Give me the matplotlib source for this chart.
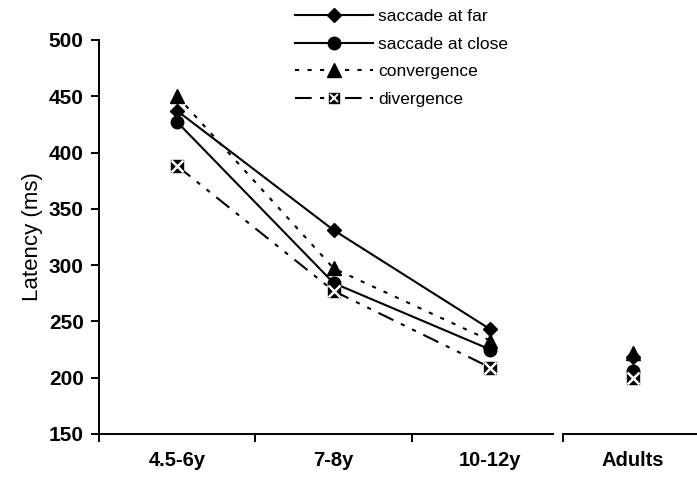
import matplotlib
matplotlib.use("Agg")
import matplotlib.pyplot as plt
from matplotlib.lines import Line2D
from matplotlib.legend_handler import HandlerTuple
from matplotlib.ticker import FixedLocator

plt.rcParams['font.family'] = ['Liberation Sans', 'DejaVu Sans']

# data
child_groups = ['4.5-6y', '7-8y', '10-12y']
adult_group = ['Adults']
saccade_far = [437, 331, 243]
saccade_close = [427, 284, 225]
convergence = [450, 297, 233]
divergence = [388, 277, 209]
adult_far = [218]
adult_close = [206]
adult_conv = [222]
adult_div = [200]
y_ticks = [150, 200, 250, 300, 350, 400, 450, 500]

fig = plt.figure(figsize=(6.97, 4.78), dpi=100)
ax1 = fig.add_axes([0.1420, 0.0921, 0.6514, 0.8243])
ax2 = fig.add_axes([0.8077, 0.0921, 0.1923, 0.8243])

lw = 1.5
conv_dash = (2, 4)
div_dash = (8, 4, 2, 4, 2, 4)

styles = {
    'far': dict(color='black', lw=lw, ls='-', marker='D', ms=7.5),
    'close': dict(color='black', lw=lw, ls='-', marker='o', ms=9),
    'conv': dict(color='black', lw=lw, ls=(0, conv_dash), marker='^', ms=10),
    'div': dict(color='black', lw=lw, ls=(0, div_dash), marker='s', ms=8.5),
}
xmark = dict(color='white', ls='none', marker='x', ms=8, mew=1.8)

def draw(ax, labels, far, close, conv, div):
    x = list(range(len(labels)))
    ax.plot(x, far, **styles['far'], clip_on=False)
    ax.plot(x, close, **styles['close'], clip_on=False)
    ax.plot(x, conv, **styles['conv'], clip_on=False)
    ax.plot(x, div, **styles['div'], clip_on=False)
    ax.plot(x, div, **xmark, clip_on=False)
    ax.set_xticks(x)
    ax.set_xticklabels(labels, fontsize=14.5, fontweight='bold')
    ax.tick_params(axis='x', which='major', length=0, pad=12)
    ax.set_ylim(150, 500)
    for s in ['top', 'right']:
        ax.spines[s].set_visible(False)
    ax.spines['bottom'].set_linewidth(1.4)

draw(ax1, child_groups, saccade_far, saccade_close, convergence, divergence)
draw(ax2, adult_group, adult_far, adult_close, adult_conv, adult_div)

ax1.set_xlim(-0.5, 2.401)
ax1.xaxis.set_minor_locator(FixedLocator([-0.5, 0.5, 1.5]))
ax1.tick_params(axis='x', which='minor', length=6, width=1.4, direction='out')
ax1.spines['left'].set_linewidth(1.4)
ax1.set_yticks(y_ticks)
ax1.set_yticklabels([str(v) for v in y_ticks], fontsize=15, fontweight='bold')
ax1.tick_params(axis='y', length=6, width=1.4, pad=5)
ax1.set_ylabel('Latency (ms)', fontsize=16, labelpad=4)

ax2.set_xlim(-0.447, 0.409)
ax2.xaxis.set_minor_locator(FixedLocator([-0.447]))
ax2.tick_params(axis='x', which='minor', length=6, width=1.4, direction='out')
ax2.spines['left'].set_visible(False)
ax2.set_yticks([])

# legend
h_far = Line2D([], [], **styles['far'])
h_close = Line2D([], [], **styles['close'])
h_conv = Line2D([], [], **styles['conv'])
h_div = (Line2D([], [], color='black', lw=lw, ls=(0, div_dash), marker='s', ms=6.5),
         Line2D([], [], color='white', ls='none', marker='x', ms=6, mew=1.4))
fig.legend([h_far, h_close, h_conv, h_div],
           ['saccade at far', 'saccade at close', 'convergence', 'divergence'],
           handler_map={tuple: HandlerTuple(ndivide=1)},
           loc='upper left', bbox_to_anchor=(295 / 697, 1 - 9 / 478),
           frameon=False, borderpad=0, borderaxespad=0, fontsize=12.5,
           handlelength=4.5, handletextpad=0.3, labelspacing=0.72)

fig.savefig('out.png', dpi=100)
